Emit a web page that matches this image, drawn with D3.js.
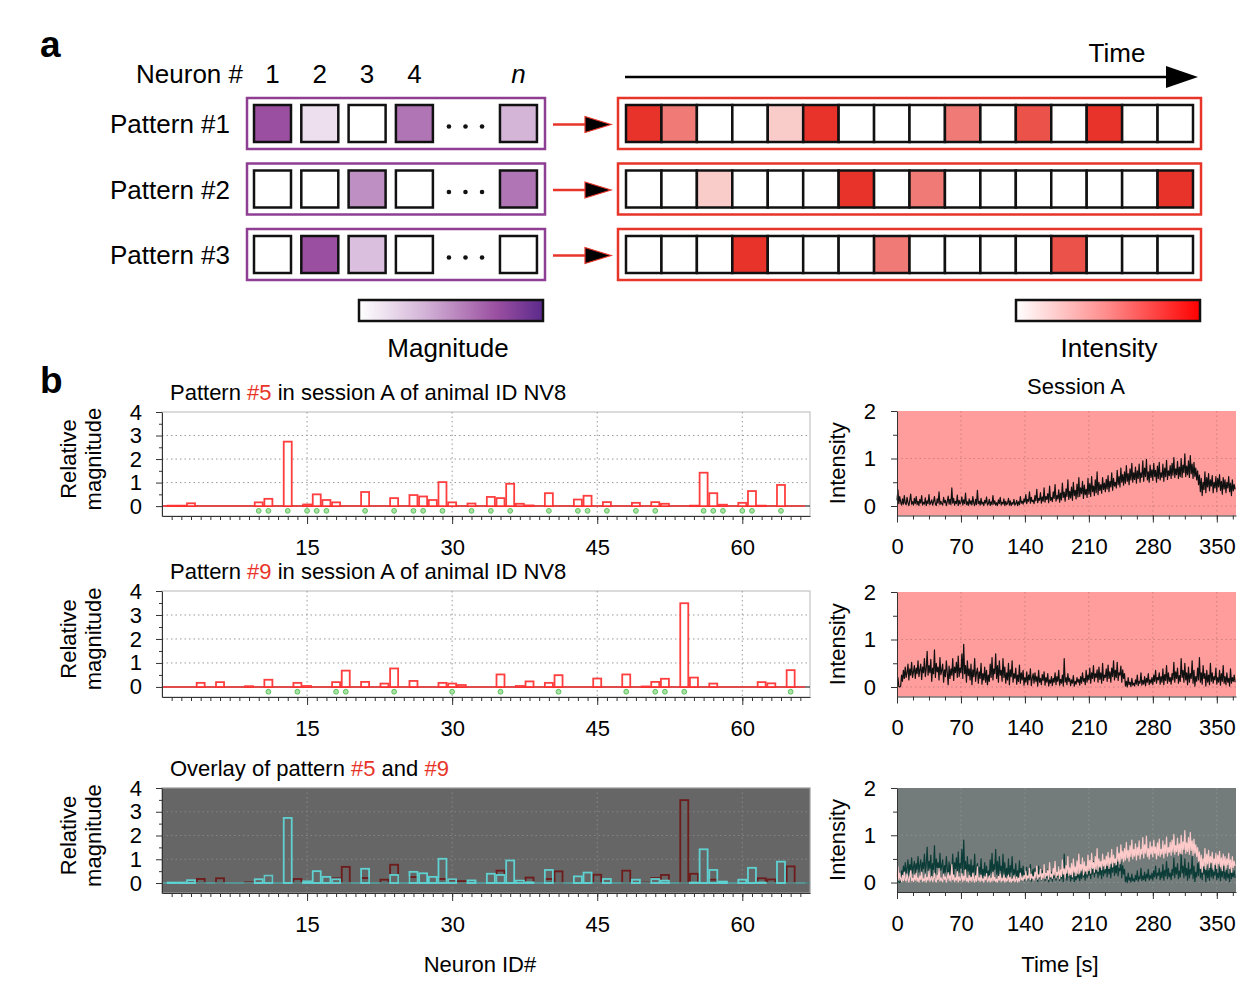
<!DOCTYPE html>
<html>
<head>
<meta charset="utf-8">
<script src="https://cdn.jsdelivr.net/npm/d3@7"></script>
<style>
  body { margin: 0; background: #fff; }
  svg { font-family: "Liberation Sans", Arial, Helvetica, sans-serif; }
</style>
</head>
<body>
<svg id="fig" width="1238" height="998"></svg>
<script>
// ---------- data ----------
// panel a: example patterns (magnitude per neuron) and their time courses (intensity per frame)
const neuronLabels = ["1", "2", "3", "4", "n"];
const patternNames = ["Pattern #1", "Pattern #2", "Pattern #3"];
const magnitudeRows = [
  [0.75, 0.15, 0, 0.6, 0.35],
  [0, 0, 0.5, 0, 0.6],
  [0, 0.75, 0.3, 0, 0]
];
const intensityRows = [
  [1, 0.65, 0, 0, 0.25, 1, 0, 0, 0, 0.65, 0, 0.85, 0, 1, 0, 0],
  [0, 0, 0.25, 0, 0, 0, 1, 0, 0.65, 0, 0, 0, 0, 0, 0, 1],
  [0, 0, 0, 1, 0, 0, 0, 0.65, 0, 0, 0, 0, 0.85, 0, 0, 0]
];

// panel b: relative magnitude per neuron (neuron IDs 1..66)
const pattern5 = [0.02, 0.02, 0.12, 0, 0, 0, 0, 0, 0, 0.16,
  0.31, 0, 2.74, 0, 0.07, 0.5, 0.26, 0.16, 0, 0,
  0.6, 0, 0, 0.34, 0, 0.47, 0.41, 0.26, 1.02, 0.16,
  0, 0.11, 0, 0.39, 0.34, 0.95, 0.1, 0.03, 0, 0.55,
  0, 0, 0.28, 0.44, 0, 0.17, 0, 0, 0.14, 0,
  0.17, 0.1, 0, 0, 0.02, 1.42, 0.55, 0.06, 0, 0.14,
  0.64, 0.02, 0, 0.9, 0, 0];
const pattern9 = [0, 0, 0, 0.17, 0, 0.2, 0, 0, 0.03, 0,
  0.3, 0, 0, 0.17, 0.04, 0, 0, 0.2, 0.68, 0,
  0.21, 0, 0.14, 0.77, 0, 0.25, 0, 0, 0.17, 0.14,
  0.08, 0, 0, 0, 0.52, 0, 0.04, 0.23, 0, 0.17,
  0.49, 0, 0, 0, 0.35, 0, 0, 0.52, 0, 0.02,
  0.21, 0.34, 0, 3.49, 0.39, 0, 0.14, 0, 0, 0,
  0, 0.2, 0.15, 0, 0.7, 0];
// neurons marked with a green dot
const sig5 = [10, 11, 13, 15, 16, 17, 21, 24, 26, 27, 29, 32, 34, 36, 40, 43, 44, 46, 49, 51, 56, 57, 58, 60, 61, 64];
const sig9 = [11, 14, 18, 19, 24, 30, 35, 41, 48, 51, 52, 54, 65];

// intensity traces, one sample per second (0..370 s), one row = 10 s
const sampleStep = 1;
const trace5 = [
  0.12, 0.34, 0.05, 0.2, 0.08, 0.02, 0.15, 0.04, 0.22, 0.06,
  0.03, 0.18, 0.07, 0.01, 0.12, 0.25, 0.04, 0.09, 0.02, 0.16,
  0.05, 0.2, 0.03, 0.1, 0.01, 0.14, 0.06, 0.22, 0.02, 0.08,
  0.04, 0.17, 0.01, 0.11, 0.05, 0.24, 0.03, 0.07, 0.13, 0.02,
  0.09, 0.2, 0.04, 0.01, 0.15, 0.06, 0.3, 0.03, 0.1, 0.05,
  0.02, 0.18, 0.07, 0.12, 0.01, 0.09, 0.21, 0.04, 0.14, 0.03,
  0.38, 0.06, 0.16, 0.02, 0.1, 0.05, 0.23, 0.01, 0.12, 0.04,
  0.08, 0.19, 0.02, 0.13, 0.05, 0.27, 0.03, 0.09, 0.01, 0.15,
  0.04, 0.11, 0.02, 0.2, 0.06, 0.01, 0.14, 0.03, 0.33, 0.05,
  0.1, 0.02, 0.16, 0.04, 0.08, 0.01, 0.12, 0.06, 0.19, 0.02,
  0.05, 0.14, 0.01, 0.09, 0.03, 0.22, 0.04, 0.11, 0.02, 0.07,
  0.01, 0.13, 0.05, 0.18, 0.02, 0.08, 0.04, 0.15, 0.01, 0.1,
  0.03, 0.06, 0.16, 0.02, 0.11, 0.01, 0.07, 0.04, 0.14, 0.02,
  0.05, 0.12, 0.01, 0.09, 0.03, 0.2, 0.06, 0.1, 0.04, 0.15,
  0.08, 0.24, 0.05, 0.14, 0.1, 0.3, 0.06, 0.18, 0.09, 0.12,
  0.05, 0.22, 0.11, 0.35, 0.07, 0.16, 0.12, 0.28, 0.06, 0.19,
  0.1, 0.38, 0.08, 0.2, 0.14, 0.26, 0.07, 0.42, 0.12, 0.18,
  0.09, 0.3, 0.16, 0.45, 0.1, 0.22, 0.15, 0.34, 0.08, 0.27,
  0.13, 0.48, 0.18, 0.29, 0.1, 0.36, 0.2, 0.55, 0.14, 0.31,
  0.17, 0.4, 0.12, 0.5, 0.22, 0.33, 0.15, 0.46, 0.19, 0.6,
  0.2, 0.38, 0.26, 0.52, 0.16, 0.44, 0.24, 0.35, 0.18, 0.58,
  0.25, 0.47, 0.2, 0.62, 0.3, 0.42, 0.22, 0.55, 0.28, 0.72,
  0.24, 0.5, 0.33, 0.45, 0.27, 0.6, 0.35, 0.48, 0.3, 0.56,
  0.36, 0.64, 0.3, 0.52, 0.4, 0.7, 0.33, 0.58, 0.42, 0.5,
  0.38, 0.75, 0.45, 0.62, 0.4, 0.8, 0.5, 0.66, 0.44, 0.72,
  0.48, 0.85, 0.52, 0.68, 0.45, 0.78, 0.55, 0.9, 0.5, 0.7,
  0.56, 0.82, 0.48, 0.74, 0.58, 0.88, 0.5, 0.7, 0.6, 0.95,
  0.52, 0.8, 0.62, 0.98, 0.55, 0.72, 0.5, 0.86, 0.6, 0.76,
  0.54, 0.9, 0.62, 0.75, 0.5, 0.84, 0.58, 0.92, 0.55, 0.7,
  0.6, 0.88, 0.52, 0.8, 0.62, 0.96, 0.56, 0.74, 0.64, 0.85,
  0.58, 0.9, 0.65, 1.02, 0.6, 0.78, 0.66, 0.94, 0.58, 0.82,
  0.62, 1.0, 0.6, 0.86, 0.7, 1.1, 0.62, 0.84, 0.66, 0.95,
  0.6, 1.06, 0.68, 0.88, 0.58, 0.92, 0.62, 0.8, 0.55, 0.74,
  0.45, 0.65, 0.3, 0.58, 0.22, 0.5, 0.35, 0.72, 0.28, 0.6,
  0.4, 0.68, 0.32, 0.55, 0.42, 0.64, 0.28, 0.5, 0.38, 0.62,
  0.3, 0.58, 0.4, 0.66, 0.33, 0.52, 0.25, 0.6, 0.36, 0.55,
  0.28, 0.5, 0.38, 0.62, 0.3, 0.48, 0.22, 0.55, 0.32, 0.45,
  0.35
];
const trace9 = [
  0.2, 0.2, 0.01, 0.0, 0.02, 0.25, 0.12, 0.35, 0.18, 0.42,
  0.2, 0.3, 0.48, 0.15, 0.38, 0.25, 0.52, 0.2, 0.32, 0.45,
  0.18, 0.4, 0.28, 0.55, 0.22, 0.36, 0.48, 0.16, 0.42, 0.3,
  0.6, 0.22, 0.38, 0.75, 0.25, 0.45, 0.3, 0.58, 0.12, 0.4,
  0.28, 0.78, 0.2, 0.5, 0.32, 0.42, 0.15, 0.62, 0.26, 0.35,
  0.48, 0.1, 0.36, 0.22, 0.55, 0.3, 0.05, 0.44, 0.18, 0.38,
  0.25, 0.6, 0.14, 0.42, 0.3, 0.52, 0.2, 0.65, 0.22, 0.4,
  0.3, 0.7, 0.18, 0.9, 0.28, 0.45, 0.1, 0.55, 0.24, 0.38,
  0.15, 0.48, 0.05, 0.36, 0.22, 0.6, 0.12, 0.3, 0.4, 0.08,
  0.32, 0.18, 0.5, 0.06, 0.28, 0.15, 0.42, 0.1, 0.35, 0.05,
  0.25, 0.12, 0.48, 0.2, 0.62, 0.15, 0.38, 0.28, 0.7, 0.18,
  0.45, 0.1, 0.55, 0.25, 0.35, 0.12, 0.6, 0.2, 0.42, 0.08,
  0.3, 0.15, 0.5, 0.05, 0.36, 0.22, 0.55, 0.1, 0.28, 0.18,
  0.4, 0.06, 0.25, 0.12, 0.46, 0.08, 0.3, 0.15, 0.35, 0.04,
  0.2, 0.1, 0.32, 0.05, 0.25, 0.15, 0.38, 0.03, 0.18, 0.28,
  0.08, 0.3, 0.12, 0.22, 0.02, 0.35, 0.1, 0.18, 0.05, 0.26,
  0.14, 0.32, 0.04, 0.2, 0.1, 0.28, 0.02, 0.15, 0.08, 0.22,
  0.03, 0.18, 0.1, 0.3, 0.05, 0.22, 0.12, 0.35, 0.04, 0.16,
  0.08, 0.25, 0.02, 0.6, 0.1, 0.2, 0.05, 0.28, 0.12, 0.18,
  0.03, 0.15, 0.08, 0.24, 0.02, 0.12, 0.06, 0.2, 0.1, 0.16,
  0.04, 0.22, 0.08, 0.3, 0.12, 0.18, 0.05, 0.35, 0.1, 0.25,
  0.15, 0.4, 0.08, 0.3, 0.18, 0.45, 0.12, 0.28, 0.2, 0.36,
  0.1, 0.42, 0.16, 0.3, 0.08, 0.5, 0.14, 0.25, 0.2, 0.38,
  0.12, 0.46, 0.18, 0.32, 0.1, 0.4, 0.22, 0.55, 0.15, 0.35,
  0.2, 0.52, 0.14, 0.3, 0.25, 0.44, 0.1, 0.36, 0.18, 0.28,
  0.02, 0.12, 0.0, 0.2, 0.05, 0.1, 0.01, 0.18, 0.04, 0.08,
  0.02, 0.15, 0.06, 0.25, 0.03, 0.12, 0.08, 0.3, 0.04, 0.14,
  0.06, 0.22, 0.03, 0.18, 0.1, 0.28, 0.05, 0.15, 0.08, 0.2,
  0.05, 0.25, 0.12, 0.35, 0.08, 0.2, 0.15, 0.3, 0.06, 0.22,
  0.1, 0.38, 0.05, 0.26, 0.14, 0.45, 0.08, 0.3, 0.12, 0.2,
  0.06, 0.28, 0.15, 0.52, 0.1, 0.32, 0.18, 0.4, 0.08, 0.24,
  0.12, 0.6, 0.2, 0.35, 0.1, 0.5, 0.15, 0.3, 0.05, 0.42,
  0.1, 0.28, 0.18, 0.55, 0.08, 0.35, 0.02, 0.22, 0.12, 0.4,
  0.15, 0.62, 0.1, 0.3, 0.06, 0.45, 0.18, 0.28, 0.02, 0.35,
  0.1, 0.25, 0.05, 0.5, 0.12, 0.3, 0.08, 0.22, 0.15, 0.4,
  0.06, 0.2, 0.1, 0.35, 0.04, 0.28, 0.12, 0.45, 0.08, 0.22,
  0.05, 0.3, 0.1, 0.18, 0.02, 0.38, 0.08, 0.2, 0.12, 0.25,
  0.1
];

const magTicks = [0, 1, 2, 3, 4];
const neuronTicks = [15, 30, 45, 60];
const timeTicks = [0, 70, 140, 210, 280, 350];
const intensityTicks = [0, 1, 2];

// ---------- setup ----------
const svg = d3.select("#fig");
const FONT = "'Liberation Sans', Arial, Helvetica, sans-serif";
const RED = "#e8352a";
const PURPLE = "#8e3f94";
const FS = 22; // panel b text size

svg.append("text").attr("x", 40).attr("y", 57)
  .attr("font-size", 37).attr("font-weight", "bold").text("a");
svg.append("text").attr("x", 40).attr("y", 393)
  .attr("font-size", 37).attr("font-weight", "bold").text("b");

//---------------- PANEL a ----------------
const rowTop = d3.scaleLinear().domain([0, 2]).range([98, 229]);
const rowH = 51;
const cellSize = 37;
const slotX = d3.scaleLinear().domain([1, 4]).range([272.5, 414.4]);
const slots = [1, 2, 3, 4, 6.2];
const magColor = d3.scaleLinear().domain([0, 0.35, 0.75, 1])
  .range(["#ffffff", "#d4b5d8", "#9a4fa0", "#5c2a8c"]);
const intColor = d3.scaleLinear().domain([0, 1]).range(["#ffffff", "#e8332a"]);
const timeX = d3.scaleLinear().domain([0, 16]).range([626, 1193]);

// header
svg.append("text").attr("x", 243).attr("y", 83).attr("text-anchor", "end")
  .attr("font-size", 26).text("Neuron #");
svg.selectAll(".nlab").data(neuronLabels).join("text")
  .attr("class", "nlab")
  .attr("x", (d, i) => slotX(slots[i]))
  .attr("y", 83).attr("text-anchor", "middle").attr("font-size", 26)
  .attr("font-style", d => d == "n" ? "italic" : "normal")
  .text(d => d);

// time arrow
svg.append("line").attr("x1", 625).attr("x2", 1170).attr("y1", 77).attr("y2", 77)
  .attr("stroke", "#000").attr("stroke-width", 2.5);
svg.append("path").attr("d", "M1166,66 L1198,77 L1166,88 Z").attr("fill", "#000");
svg.append("text").attr("x", 1117).attr("y", 62).attr("text-anchor", "middle")
  .attr("font-size", 26).text("Time");

magnitudeRows.forEach(function (row, r) {
  let top = rowTop(r);
  let cy = top + rowH / 2;
  svg.append("text").attr("x", 230).attr("y", cy + 9.5).attr("text-anchor", "end")
    .attr("font-size", 26).text(patternNames[r]);
  svg.append("rect").attr("x", 247).attr("y", top).attr("width", 298).attr("height", rowH)
    .attr("fill", "#fff").attr("stroke", PURPLE).attr("stroke-width", 2.5);
  svg.selectAll(".mc" + r).data(row).join("rect")
    .attr("class", "mc" + r)
    .attr("x", (d, i) => slotX(slots[i]) - cellSize / 2)
    .attr("y", cy - cellSize / 2)
    .attr("width", cellSize).attr("height", cellSize)
    .attr("fill", d => magColor(d))
    .attr("stroke", "#111").attr("stroke-width", 2.5);
  svg.selectAll(".dots" + r).data([4.73, 5.08, 5.43]).join("circle")
    .attr("class", "dots" + r)
    .attr("cx", d => slotX(d)).attr("cy", cy + 3).attr("r", 2.3).attr("fill", "#111");

  // arrow to time course
  svg.append("line").attr("x1", 553).attr("x2", 590).attr("y1", cy + 1).attr("y2", cy + 1)
    .attr("stroke", RED).attr("stroke-width", 2.5);
  svg.append("path")
    .attr("d", `M585,${cy - 7} L611,${cy + 1} L585,${cy + 9} Z`)
    .attr("fill", "#000").attr("stroke", RED).attr("stroke-width", 1.2);

  // time course
  svg.append("rect").attr("x", 618).attr("y", top).attr("width", 583).attr("height", rowH)
    .attr("fill", "#fff").attr("stroke", RED).attr("stroke-width", 2.5);
  svg.selectAll(".tc" + r).data(intensityRows[r]).join("rect")
    .attr("class", "tc" + r)
    .attr("x", (d, i) => timeX(i)).attr("y", cy - cellSize / 2)
    .attr("width", timeX(1) - timeX(0)).attr("height", cellSize)
    .attr("fill", d => intColor(d))
    .attr("stroke", "#111").attr("stroke-width", 2.5);
});

// colour bars
const defs = svg.append("defs");
const gMag = defs.append("linearGradient").attr("id", "gMag");
[0, 0.35, 0.75, 1].forEach(o => gMag.append("stop").attr("offset", o).attr("stop-color", magColor(o)));
const gInt = defs.append("linearGradient").attr("id", "gInt");
gInt.append("stop").attr("offset", 0).attr("stop-color", "#ffffff");
gInt.append("stop").attr("offset", 0.5).attr("stop-color", "#ff8a8a");
gInt.append("stop").attr("offset", 1).attr("stop-color", "#ff0000");

svg.append("rect").attr("x", 359).attr("y", 300).attr("width", 184).attr("height", 21)
  .attr("fill", "url(#gMag)").attr("stroke", "#111").attr("stroke-width", 2.5);
svg.append("rect").attr("x", 1016).attr("y", 300).attr("width", 184).attr("height", 21)
  .attr("fill", "url(#gInt)").attr("stroke", "#111").attr("stroke-width", 2.5);
svg.append("text").attr("x", 448).attr("y", 357).attr("text-anchor", "middle")
  .attr("font-size", 26).text("Magnitude");
svg.append("text").attr("x", 1109).attr("y", 357).attr("text-anchor", "middle")
  .attr("font-size", 26).text("Intensity");

//---------------- PANEL b ----------------
function styleAxis(g) {
  g.attr("font-size", FS).attr("font-family", FONT);
  g.selectAll("path,line").attr("stroke", "#333");
  g.selectAll("text").attr("fill", "#000");
}

function addTitle(x, y, parts, anchor) {
  let t = svg.append("text").attr("x", x).attr("y", y).attr("font-size", FS)
    .attr("text-anchor", anchor || "start");
  parts.forEach(p => t.append("tspan").attr("fill", p[1] ? RED : "#000").text(p[0]));
}

function yTitle(lines, xs, cy) {
  lines.forEach(function (s, i) {
    svg.append("text").attr("transform", `translate(${xs[i]},${cy}) rotate(-90)`)
      .attr("text-anchor", "middle").attr("font-size", FS).text(s);
  });
}

function barPanel(cfg) {
  const x = d3.scaleLinear().domain([0, 67]).range([162, 810]);
  const y = d3.scaleLinear().domain([-0.42, 4]).range([cfg.bottom, cfg.top]);
  const g = svg.append("g");
  g.append("rect").attr("x", x(0)).attr("y", cfg.top)
    .attr("width", x(67) - x(0)).attr("height", cfg.bottom - cfg.top)
    .attr("fill", cfg.bg).attr("stroke", cfg.frame).attr("stroke-width", 1.2);
  g.selectAll(".hg").data([1, 2, 3]).join("line")
    .attr("x1", x(0)).attr("x2", x(67)).attr("y1", d => y(d)).attr("y2", d => y(d))
    .attr("stroke", cfg.grid).attr("stroke-dasharray", "1.5,3");
  g.selectAll(".vg").data(neuronTicks).join("line")
    .attr("x1", d => x(d)).attr("x2", d => x(d)).attr("y1", cfg.top).attr("y2", cfg.bottom)
    .attr("stroke", cfg.grid).attr("stroke-dasharray", "1.5,3");
  g.append("line").attr("x1", x(0)).attr("x2", x(67)).attr("y1", y(0)).attr("y2", y(0))
    .attr("stroke", cfg.zeroLine).attr("stroke-width", 1.5);

  cfg.series.forEach(function (s) {
    g.append("line").attr("x1", x(0)).attr("x2", x(66.5)).attr("y1", y(0)).attr("y2", y(0))
      .attr("stroke", s.base).attr("stroke-width", 1.5);
    g.selectAll(null).data(s.values.map((v, i) => ({ id: i + 1, v: v })).filter(d => d.v > 0))
      .join("rect")
      .attr("x", d => x(d.id) - 4).attr("width", 8)
      .attr("y", d => y(d.v)).attr("height", d => y(0) - y(d.v))
      .attr("fill", s.fill).attr("stroke", s.color).attr("stroke-width", 1.8)
      .attr("stroke-opacity", 0.9);
  });
  if (cfg.dots) {
    g.selectAll(".dot").data(cfg.dots).join("circle")
      .attr("cx", d => x(d)).attr("cy", y(-0.2)).attr("r", 2.4)
      .attr("fill", "#a8e4a3").attr("stroke", "#5cc05c").attr("stroke-width", 1);
  }

  // axes
  g.append("g").attr("transform", `translate(${x(0)},0)`)
    .call(d3.axisLeft(y).tickValues([0.5, 1.5, 2.5, 3.5]).tickSize(3).tickFormat(""))
    .call(styleAxis).select(".domain").remove();
  g.append("g").attr("transform", `translate(${x(0)},0)`)
    .call(d3.axisLeft(y).tickValues(magTicks).tickSize(6).tickSizeOuter(0)
      .tickPadding(14).tickFormat(d3.format("d")))
    .call(styleAxis);
  g.append("g").attr("transform", `translate(0,${cfg.bottom})`)
    .call(d3.axisBottom(x).tickValues(d3.range(1, 67)).tickSize(4).tickFormat(""))
    .call(styleAxis).select(".domain").remove();
  g.append("g").attr("transform", `translate(0,${cfg.bottom})`)
    .call(d3.axisBottom(x).tickValues(neuronTicks).tickSize(8).tickSizeOuter(0).tickPadding(15))
    .call(styleAxis);

  yTitle(["Relative", "magnitude"], [76, 101], y(2));
}

function tracePanel(cfg) {
  const x = d3.scaleLinear().domain([0, 371]).range([897, 1236]);
  const y = d3.scaleLinear().domain([-0.2, 2]).range([cfg.bottom, cfg.top]);
  const g = svg.append("g");
  g.append("rect").attr("x", x(0)).attr("y", cfg.top)
    .attr("width", x(371) - x(0)).attr("height", cfg.bottom - cfg.top)
    .attr("fill", cfg.bg);
  g.selectAll(".hg").data([0, 1]).join("line")
    .attr("x1", x(0)).attr("x2", x(371)).attr("y1", d => y(d)).attr("y2", d => y(d))
    .attr("stroke", cfg.grid).attr("stroke-dasharray", "1.5,3");
  g.selectAll(".vg").data(timeTicks.slice(1)).join("line")
    .attr("x1", d => x(d)).attr("x2", d => x(d)).attr("y1", cfg.top).attr("y2", cfg.bottom)
    .attr("stroke", cfg.grid).attr("stroke-dasharray", "1.5,3");

  const line = d3.line().x((d, i) => x(i * sampleStep)).y(d => y(d));
  cfg.series.forEach(function (s) {
    g.append("path").datum(s.values).attr("d", line)
      .attr("fill", "none").attr("stroke", s.color).attr("stroke-width", 1.2)
      .attr("stroke-linejoin", "round");
  });

  g.append("g").attr("transform", `translate(${x(0)},0)`)
    .call(d3.axisLeft(y).tickValues([0.5, 1.5]).tickSize(4).tickFormat(""))
    .call(styleAxis).select(".domain").remove();
  g.append("g").attr("transform", `translate(${x(0)},0)`)
    .call(d3.axisLeft(y).tickValues(intensityTicks).tickSize(6).tickSizeOuter(0)
      .tickPadding(15).tickFormat(d3.format("d")))
    .call(styleAxis);
  g.append("g").attr("transform", `translate(0,${cfg.bottom})`)
    .call(d3.axisBottom(x).tickValues(d3.range(0, 371, 17.5)).tickSize(4).tickFormat(""))
    .call(styleAxis).select(".domain").remove();
  g.append("g").attr("transform", `translate(0,${cfg.bottom})`)
    .call(d3.axisBottom(x).tickValues(timeTicks).tickSize(7).tickSizeOuter(0).tickPadding(16))
    .call(styleAxis);

  yTitle(["Intensity"], [845], y(0.9));
}

// bar charts
addTitle(170, 400, [["Pattern "], ["#5", 1], [" in session A of animal ID NV8"]]);
barPanel({
  top: 412, bottom: 516, bg: "#fff", frame: "#c4c4c4", grid: "#9a9a9a", zeroLine: "#555",
  series: [{ values: pattern5, color: "#ff2a2a", fill: "#fff", base: "#ff3a3a" }],
  dots: sig5
});
addTitle(170, 579, [["Pattern "], ["#9", 1], [" in session A of animal ID NV8"]]);
barPanel({
  top: 591, bottom: 697, bg: "#fff", frame: "#c4c4c4", grid: "#9a9a9a", zeroLine: "#555",
  series: [{ values: pattern9, color: "#ff2a2a", fill: "#fff", base: "#ff3a3a" }],
  dots: sig9
});
addTitle(170, 776, [["Overlay of pattern "], ["#5", 1], [" and "], ["#9", 1]]);
barPanel({
  top: 788, bottom: 893, bg: "#666666", frame: "#9a9a9a", grid: "#858585", zeroLine: "#4f8585",
  series: [
    { values: pattern9, color: "#6e1313", fill: "none", base: "#4f8585" },
    { values: pattern5, color: "#5fdcdc", fill: "none", base: "#5a9a9a" }
  ]
});

// traces
addTitle(1076, 394, [["Session A"]], "middle");
tracePanel({
  top: 411, bottom: 515.5, bg: "#ff9c9c", grid: "#d17f7f",
  series: [{ values: trace5, color: "#111" }]
});
tracePanel({
  top: 592, bottom: 696.5, bg: "#ff9c9c", grid: "#d17f7f",
  series: [{ values: trace9, color: "#111" }]
});
tracePanel({
  top: 788, bottom: 892, bg: "#737c7b", grid: "#8a9392",
  series: [
    { values: trace9, color: "#0c3c37" },
    { values: trace5, color: "#ffcaca" }
  ]
});

svg.append("text").attr("x", 480).attr("y", 972).attr("text-anchor", "middle")
  .attr("font-size", FS).text("Neuron ID#");
svg.append("text").attr("x", 1060).attr("y", 972).attr("text-anchor", "middle")
  .attr("font-size", FS).text("Time [s]");
</script>
</body>
</html>
